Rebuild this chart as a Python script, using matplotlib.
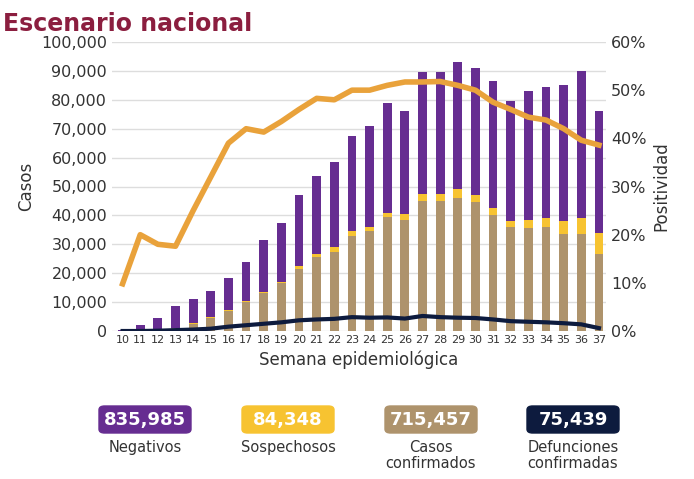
import numpy as np
import matplotlib.pyplot as plt
from matplotlib.patches import FancyBboxPatch
from matplotlib.ticker import FuncFormatter

semanas = list(range(10, 38))
confirmados = [0, 200, 500, 1000, 2500, 4500, 7000, 10000, 13000, 16500, 21500, 25500, 27500, 33000,
               34500, 39500, 38500, 45000, 45000, 46000, 44500, 40000, 36000, 35500, 36000, 33500, 33500, 26500]
sospechosos = [0, 50, 100, 200, 300, 300, 400, 400, 500, 600, 1000, 1000, 1500, 1500,
               1500, 1500, 2000, 2500, 2500, 3000, 2500, 2500, 2000, 3000, 3000, 4500, 5500, 7500]
totales = [300, 2000, 4500, 8500, 11000, 14000, 18500, 24000, 31500, 37500, 47000, 53500, 58500, 67500,
           71000, 79000, 76000, 89500, 89500, 93000, 91000, 86500, 79500, 83000, 84500, 85000, 90000, 76000]
defunciones = [0, 0, 100, 300, 500, 800, 1500, 2000, 2500, 3000, 3700, 4000, 4200, 4800,
               4600, 4700, 4300, 5200, 4800, 4600, 4500, 4000, 3400, 3200, 3000, 2700, 2300, 1000]
positividad = [9.8, 20, 18, 17.6, 25, 32, 39, 42, 41.3, 43.5, 46, 48.3, 48, 50, 50, 51, 51.7, 51.7,
               51.8, 51, 50, 47.5, 46, 44.4, 43.8, 42, 39.6, 38.6]

negativos = [t - c - s for t, c, s in zip(totales, confirmados, sospechosos)]
base2 = [c + s for c, s in zip(confirmados, sospechosos)]

morado = '#662d91'
amarillo = '#f7c331'
cafe = '#ae936c'
azul = '#0d1b3e'
naranja = '#e9a23b'

fig = plt.figure(figsize=(6.94, 4.79), dpi=100, facecolor='white')
ax = fig.add_axes([112/694, 1-331/479, 494/694, 289/479])
x = np.arange(len(semanas))
ax.bar(x, confirmados, width=0.5, color=cafe, zorder=2)
ax.bar(x, sospechosos, width=0.5, bottom=confirmados, color=amarillo, zorder=2)
ax.bar(x, negativos, width=0.5, bottom=base2, color=morado, zorder=2)
ax.plot(x, defunciones, color=azul, lw=3, zorder=3)
ax.set_ylim(0, 100000)
ax.set_xlim(-0.6, len(semanas) - 0.6)
ax.set_yticks(range(0, 100001, 10000))
ax.yaxis.set_major_formatter(FuncFormatter(lambda v, p: f'{int(v):,}'))
ax.set_xticks(x)
ax.set_xticklabels(semanas, fontsize=8, color='#333333')
ax.tick_params(axis='y', labelsize=11.5, length=0, colors='#333333')
ax.tick_params(axis='x', length=0, pad=3)
ax.grid(axis='y', color='#dddddd', lw=1, zorder=0)
for s in ax.spines.values():
    s.set_visible(False)
ax.set_ylabel('Casos', fontsize=12, color='#333333')
ax.set_xlabel('Semana epidemiológica', fontsize=12, color='#333333', labelpad=4)

ax2 = ax.twinx()
ax2.plot(x, positividad, color=naranja, lw=4, zorder=4)
ax2.set_ylim(0, 60)
ax2.set_yticks(range(0, 61, 10))
ax2.yaxis.set_major_formatter(FuncFormatter(lambda v, p: f'{int(v)}%'))
ax2.tick_params(axis='y', labelsize=11.5, length=0, colors='#333333')
for s in ax2.spines.values():
    s.set_visible(False)
ax2.set_ylabel('Positividad', fontsize=12, color='#333333')

fig.text(0.005, 0.975, 'Escenario nacional', fontsize=17, fontweight='bold', color='#8b1e3f', va='top')

cajas = [('835,985', morado, 'white', 'Negativos', 145),
         ('84,348', amarillo, 'white', 'Sospechosos', 288),
         ('715,457', cafe, 'white', 'Casos\nconfirmados', 431),
         ('75,439', azul, 'white', 'Defunciones\nconfirmadas', 573)]
for valor, col, tc, etiqueta, cx in cajas:
    w, h = 92, 27
    fig.patches.append(FancyBboxPatch(((cx - w/2)/694, 1-433/479), w/694, h/479,
                                      boxstyle='round,pad=0,rounding_size=0.008',
                                      transform=fig.transFigure, color=col))
    fig.text(cx/694, 1-420/479, valor, ha='center', va='center', fontsize=13,
             fontweight='bold', color=tc)
    fig.text(cx/694, 1-440/479, etiqueta, ha='center', va='top', fontsize=10.5,
             color='#333333', linespacing=1.1)

fig.savefig('out.png', dpi=100)
